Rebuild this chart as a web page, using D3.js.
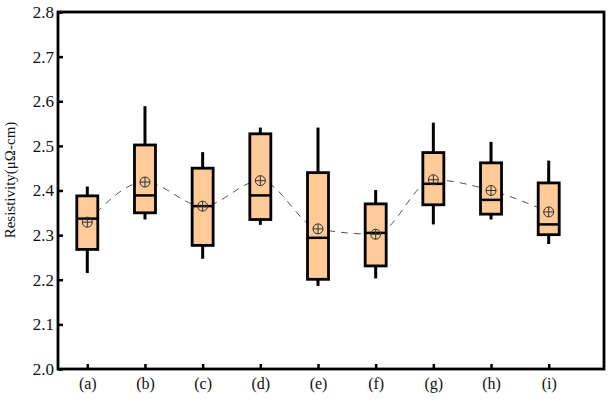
<!DOCTYPE html>
<html><head><meta charset="utf-8">
<script src="https://cdn.jsdelivr.net/npm/d3@7"></script>
<style>body{margin:0;background:#fff}svg{display:block}</style>
</head><body>
<script>
const categories = ["(a)","(b)","(c)","(d)","(e)","(f)","(g)","(h)","(i)"];
const whiskerHigh = [2.409,2.589,2.486,2.541,2.541,2.401,2.552,2.509,2.467];
const q3         = [2.388,2.502,2.450,2.527,2.440,2.370,2.485,2.462,2.417];
const median     = [2.337,2.389,2.365,2.389,2.294,2.305,2.415,2.379,2.324];
const q1         = [2.268,2.350,2.277,2.335,2.201,2.231,2.368,2.347,2.301];
const whiskerLow = [2.215,2.335,2.247,2.323,2.186,2.203,2.324,2.335,2.280];
const means      = [2.329,2.419,2.365,2.422,2.314,2.302,2.424,2.400,2.352];
const yTicks = [2.0,2.1,2.2,2.3,2.4,2.5,2.6,2.7,2.8];

const W=610,H=401;
const L=58,R=604,T=12,B=369;
const svg=d3.select("body").append("svg").attr("width",W).attr("height",H);
const x=d3.scalePoint().domain(categories).range([87.3,548.7]);
const y=d3.scaleLinear().domain([2.0,2.8]).range([B,T]);
const font="'Liberation Serif', 'DejaVu Serif', serif";

// y axis ticks (inward)
const ya=svg.append("g").attr("transform",`translate(${L},0)`)
  .call(d3.axisRight(y).tickValues(yTicks).tickSize(5).tickFormat(d3.format(".1f")));
ya.select(".domain").remove();
ya.selectAll("line").attr("stroke","#000").attr("stroke-width",2.5);
ya.selectAll("text").attr("x",-4).attr("text-anchor","end").attr("font-family",font)
  .attr("font-size",17).attr("fill","#111");

// x axis ticks (inward)
const xa=svg.append("g").attr("transform",`translate(0,${B})`)
  .call(d3.axisTop(x).tickSize(5));
xa.select(".domain").remove();
xa.selectAll("line").attr("stroke","#000").attr("stroke-width",2.5);
xa.selectAll("text").attr("y",20).attr("dy","0").attr("font-family",font)
  .attr("font-size",16).attr("fill","#111");

// frame
svg.append("rect").attr("x",L).attr("y",T).attr("width",R-L).attr("height",B-T)
  .attr("fill","none").attr("stroke","#000").attr("stroke-width",2.8);

// mean dashed line
svg.append("path")
  .attr("d",d3.line().x((d,i)=>x(categories[i])).y(d=>y(d)).curve(d3.curveMonotoneX)(means))
  .attr("fill","none").attr("stroke","#555").attr("stroke-width",1).attr("stroke-dasharray","7,6");

const bw=21;
const g=svg.append("g");
categories.forEach((c,i)=>{
  const cx=x(c);
  g.append("line").attr("x1",cx).attr("x2",cx).attr("y1",y(whiskerHigh[i])).attr("y2",y(q3[i]))
    .attr("stroke","#000").attr("stroke-width",3);
  g.append("line").attr("x1",cx).attr("x2",cx).attr("y1",y(q1[i])).attr("y2",y(whiskerLow[i]))
    .attr("stroke","#000").attr("stroke-width",3);
  g.append("rect").attr("x",cx-bw/2).attr("y",y(q3[i])).attr("width",bw).attr("height",y(q1[i])-y(q3[i]))
    .attr("fill","#fdca98").attr("stroke","#000").attr("stroke-width",2.8);
  g.append("line").attr("x1",cx-bw/2).attr("x2",cx+bw/2).attr("y1",y(median[i])).attr("y2",y(median[i]))
    .attr("stroke","#000").attr("stroke-width",2.5);
  const my=y(means[i]);
  g.append("circle").attr("cx",cx).attr("cy",my).attr("r",5).attr("fill","none")
    .attr("stroke","#333").attr("stroke-width",1);
  g.append("line").attr("x1",cx-5).attr("x2",cx+5).attr("y1",my).attr("y2",my).attr("stroke","#333").attr("stroke-width",1);
  g.append("line").attr("x1",cx).attr("x2",cx).attr("y1",my-5).attr("y2",my+5).attr("stroke","#333").attr("stroke-width",1);
});

svg.append("text").attr("transform",`translate(15,180) rotate(-90)`).attr("text-anchor","middle")
  .attr("font-family",font).attr("font-size",15).attr("fill","#111").text("Resistivity(μΩ-cm)");
</script>
</body></html>
